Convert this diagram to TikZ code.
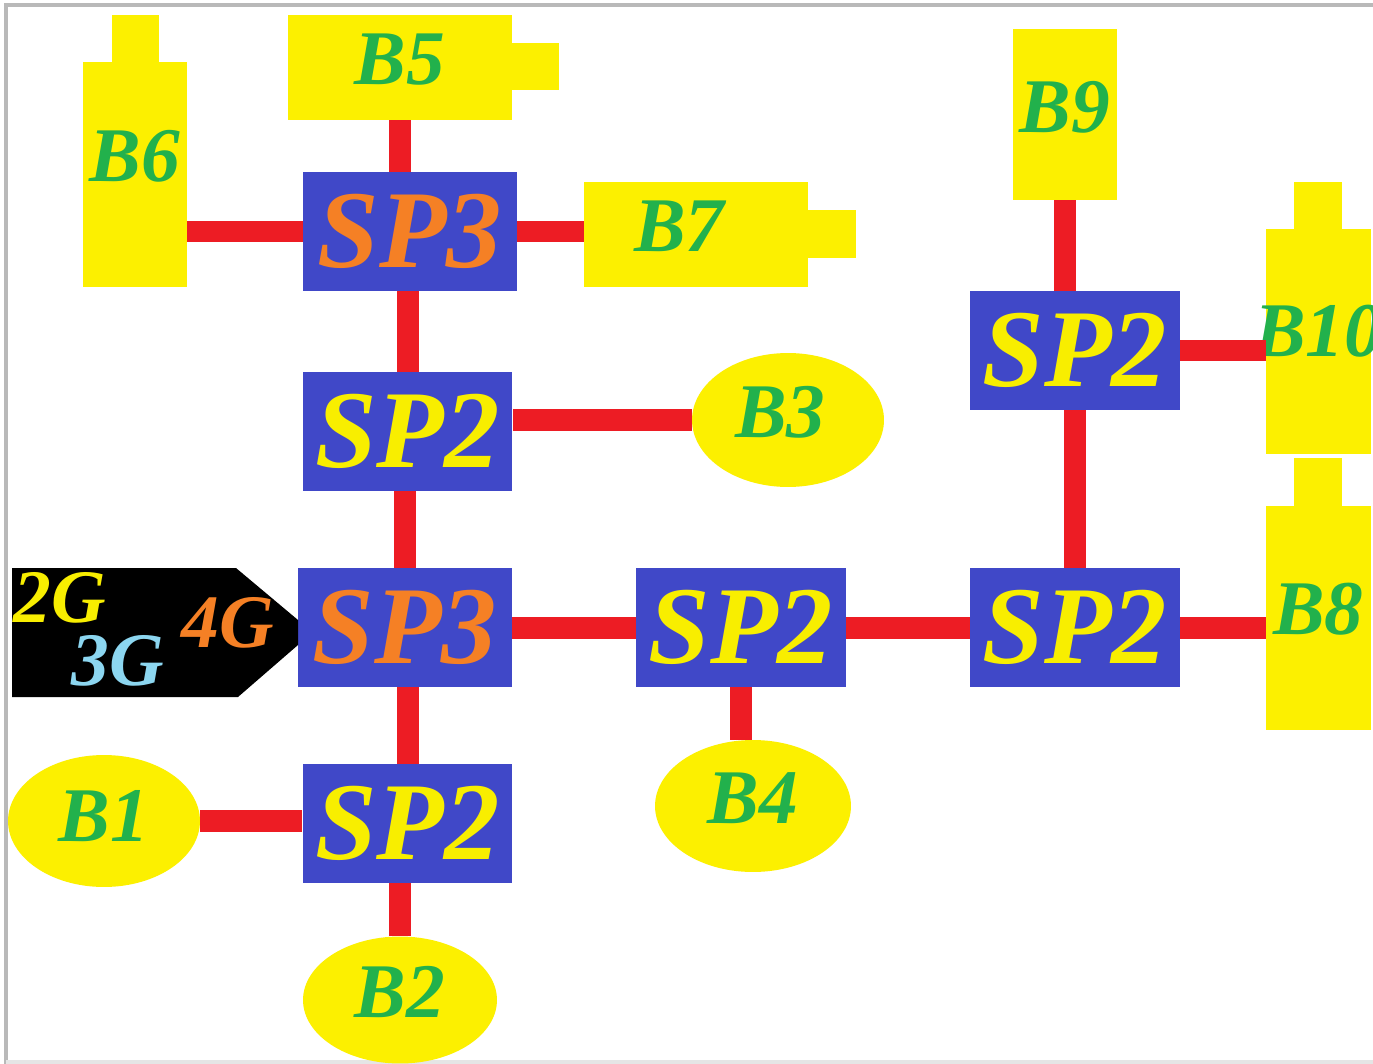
\documentclass[tikz,border=0pt]{standalone}
\usepackage{fontspec}
\setmainfont{Liberation Serif}
\usepackage{xcolor}
\usetikzlibrary{shapes.geometric}
\definecolor{spblue}{RGB}{64,72,200}
\definecolor{battyellow}{RGB}{252,240,0}
\definecolor{linkred}{RGB}{237,28,36}
\definecolor{labgreen}{RGB}{34,177,76}
\definecolor{spyellow}{RGB}{248,238,0}
\definecolor{sporange}{RGB}{245,128,37}
\definecolor{lightblue}{RGB}{140,214,240}

\begin{document}
\begin{tikzpicture}[x=0.02cm,y=-0.02cm,
  sp/.style={fill=spblue,inner sep=0pt,minimum width=4.2cm,minimum height=2.38cm,
    font=\fontsize{63}{63}\selectfont\bfseries\itshape},
  sptwo/.style={sp,text=spyellow},
  spthree/.style={sp,text=sporange,minimum width=4.28cm},
  batt/.style={fill=battyellow,inner sep=0pt,text=labgreen,text depth=0.32cm,
    font=\fontsize{44}{44}\selectfont\bfseries\itshape},
  vbatt/.style={batt,minimum width=2.08cm,minimum height=4.5cm},
  hbatt/.style={batt,minimum width=4.48cm,minimum height=2.1cm},
  oval/.style={batt,ellipse,minimum width=3.84cm,minimum height=2.64cm},
  link/.style={linkred,line width=0.44cm},
  gen/.style={inner sep=0pt,font=\fontsize{43}{43}\selectfont\bfseries\itshape}]
\useasboundingbox (0,0) rectangle (1373,1064);
\fill[white] (0,0) rectangle (1373,1064);
\draw[gray!55,line width=0.08cm] (6,1064) -- (6,5) -- (1373,5);
\draw[gray!20,line width=0.08cm] (6,1062) -- (1373,1062);
% splitters
\node[spthree] (sp3top) at (410,231.5) {SP3};
\node[sptwo] (sp2a) at (407.5,431.5) {SP2};
\node[spthree] (sp3mid) at (405,627.5) {SP3};
\node[sptwo] (sp2b) at (741,627.5) {SP2};
\node[sptwo] (sp2c) at (1075,627.5) {SP2};
\node[sptwo] (sp2e) at (1075,350.5) {SP2};
\node[sptwo] (sp2d) at (407.5,823.5) {SP2};
% batteries
\node[vbatt,text depth=0.76cm] (b6) at (135,174.5) {B6};
\fill[battyellow] ([xshift=-0.46cm]b6.north) rectangle ([xshift=0.48cm,yshift=0.94cm]b6.north);
\node[hbatt] (b5) at (400,67.5) {B5};
\fill[battyellow] ([yshift=0.49cm]b5.east) rectangle ([xshift=0.94cm,yshift=-0.45cm]b5.east);
\node[hbatt] (b7) at (696,234.5) {B7\hspace*{0.66cm}};
\fill[battyellow] ([yshift=0.49cm]b7.east) rectangle ([xshift=0.96cm,yshift=-0.47cm]b7.east);
\node[batt,minimum width=2.08cm,minimum height=3.42cm] (b9) at (1065,114.5) {B9};
\node[vbatt,minimum width=2.1cm,text depth=0.42cm] (b10) at (1318.5,341.5) {\makebox[0pt][c]{B10}};
\fill[battyellow] ([xshift=-0.49cm]b10.north) rectangle ([xshift=0.47cm,yshift=0.94cm]b10.north);
\node[vbatt,minimum width=2.1cm,minimum height=4.48cm,text depth=0.36cm] (b8) at (1318.5,618) {B8};
\fill[battyellow] ([xshift=-0.49cm]b8.north) rectangle ([xshift=0.47cm,yshift=0.96cm]b8.north);
% ovals
\node[oval,minimum height=2.68cm] (b3) at (788,420) {B3\hspace*{0.3cm}};
\node[oval,minimum width=3.92cm] (b4) at (753,806) {B4};
\node[oval,text depth=0.2cm] (b1) at (104,821) {B1};
\node[oval,minimum width=3.88cm,minimum height=2.54cm] (b2) at (400,1000) {B2};
% source tag
\fill[black] (12,568) -- (236,568) -- (298,620) -- (298,645) -- (238,697) -- (12,697) -- cycle;
\node[gen,text=spyellow] (g2) at (60,598) {2G};
\node[gen,text=lightblue] (g3) at (118,661) {3G};
\node[gen,text=sporange] (g4) at (228,623) {4G};
% links
\draw[link] (b5) -- (b5 |- sp3top.north);
\draw[link] (b6.east |- sp3top) -- (sp3top);
\draw[link] (sp3top) -- (sp3top -| b7.west);
\draw[link] (sp2a) -- (sp2a |- sp3top.south);
\draw[link] (b3) -- (b3 -| sp2a.east);
\draw[link] (sp3mid) -- (sp3mid |- sp2a.south);
\draw[link] (sp3mid) -- (sp2b);
\draw[link] (sp2b) -- (sp2c);
\draw[link] (sp2c) -- (sp2c -| b8.west);
\draw[link] (sp2b) -- (sp2b |- b4.north);
\draw[link] (sp2d) -- (sp2d |- sp3mid.south);
\draw[link] (b1) -- (b1 -| sp2d.west);
\draw[link] (b2) -- (b2 |- sp2d.south);
\draw[link] (b9) -- (b9 |- sp2e.north);
\draw[link] (sp2e) -- (sp2c);
\draw[link] (sp2e) -- (sp2e -| b10.west);
\end{tikzpicture}
\end{document}
